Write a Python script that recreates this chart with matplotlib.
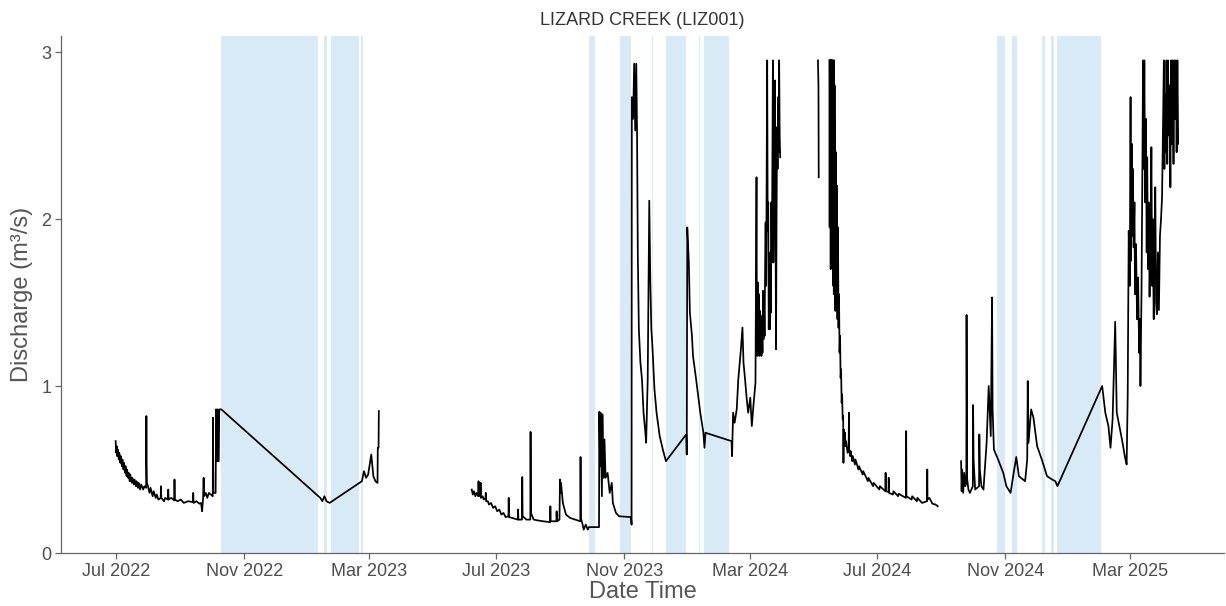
import numpy as np
import pandas as pd
import matplotlib
matplotlib.use("Agg")
import matplotlib.pyplot as plt
import matplotlib.dates as mdates

plt.rcParams["font.family"] = ["Liberation Sans", "DejaVu Sans"]

# discharge record (m3/s), split where the logger had no data
seg1_dates = ["2022-06-30 12:00", "2022-07-01 00:00", "2022-07-01 12:00", "2022-07-02 00:00",
              "2022-07-02 12:00", "2022-07-03 12:00", "2022-07-04 00:00", "2022-07-05 00:00",
              "2022-07-05 12:00", "2022-07-06 12:00", "2022-07-07 00:00", "2022-07-08 00:00",
              "2022-07-08 12:00", "2022-07-09 12:00", "2022-07-10 00:00", "2022-07-11 00:00",
              "2022-07-11 12:00", "2022-07-12 12:00", "2022-07-13 00:00", "2022-07-14 00:00",
              "2022-07-14 12:00", "2022-07-16 00:00", "2022-07-16 12:00", "2022-07-18 00:00",
              "2022-07-18 12:00", "2022-07-20 00:00", "2022-07-20 12:00", "2022-07-22 00:00",
              "2022-07-22 12:00", "2022-07-24 00:00", "2022-07-25 00:00", "2022-07-27 00:00",
              "2022-07-28 00:00", "2022-07-29 18:00", "2022-07-30 00:00", "2022-07-30 04:00",
              "2022-07-30 12:00", "2022-07-31 12:00", "2022-08-02 00:00", "2022-08-03 00:00",
              "2022-08-05 00:00", "2022-08-06 00:00", "2022-08-08 00:00", "2022-08-09 00:00",
              "2022-08-10 12:00", "2022-08-12 18:00", "2022-08-13 00:00", "2022-08-13 08:00",
              "2022-08-16 00:00", "2022-08-17 00:00", "2022-08-19 18:00", "2022-08-20 00:00",
              "2022-08-20 08:00", "2022-08-23 00:00", "2022-08-25 18:00", "2022-08-26 00:00",
              "2022-08-26 08:00", "2022-08-29 00:00", "2022-09-01 00:00", "2022-09-04 00:00",
              "2022-09-08 00:00", "2022-09-12 18:00", "2022-09-13 00:00", "2022-09-13 08:00",
              "2022-09-16 00:00", "2022-09-19 00:00", "2022-09-20 12:00", "2022-09-21 12:00",
              "2022-09-22 12:00", "2022-09-23 00:00", "2022-09-23 08:00", "2022-09-25 00:00",
              "2022-09-26 12:00", "2022-09-28 00:00", "2022-10-01 18:00", "2022-10-02 00:00",
              "2022-10-02 08:00", "2022-10-04 12:00", "2022-10-05 00:00", "2022-10-06 00:00",
              "2022-10-06 06:00", "2022-10-07 12:00", "2022-10-08 00:00", "2022-10-10 00:00",
              "2023-01-13 00:00", "2023-01-15 00:00", "2023-01-17 00:00", "2023-01-19 00:00",
              "2023-01-22 00:00", "2023-02-22 00:00", "2023-02-24 00:00", "2023-02-26 00:00",
              "2023-02-28 00:00", "2023-03-03 00:00", "2023-03-05 00:00", "2023-03-07 00:00",
              "2023-03-09 00:00", "2023-03-09 06:00", "2023-03-10 00:00", "2023-03-10 06:00"]
seg1_q = [0.67, 0.60, 0.64, 0.58,
          0.62, 0.56, 0.60, 0.54,
          0.58, 0.52, 0.56, 0.50,
          0.54, 0.48, 0.52, 0.46,
          0.50, 0.45, 0.48, 0.43,
          0.47, 0.42, 0.45, 0.41,
          0.44, 0.40, 0.43, 0.39,
          0.42, 0.38, 0.41, 0.38,
          0.40, 0.39, 0.82, 0.55,
          0.42, 0.40, 0.36, 0.39,
          0.34, 0.37, 0.33, 0.35,
          0.32, 0.33, 0.40, 0.33,
          0.31, 0.33, 0.32, 0.38,
          0.32, 0.33, 0.315, 0.44,
          0.32, 0.31, 0.32, 0.30,
          0.31, 0.305, 0.36, 0.30,
          0.31, 0.295, 0.30, 0.25,
          0.33, 0.45, 0.34, 0.36,
          0.33, 0.36, 0.34, 0.81,
          0.36, 0.36, 0.86, 0.55,
          0.86, 0.55, 0.86, 0.86,
          0.33, 0.31, 0.34, 0.31,
          0.30, 0.43, 0.49, 0.45,
          0.47, 0.59, 0.46, 0.43,
          0.42, 0.63, 0.63, 0.85]

seg2_dates = ["2023-06-07 12:00", "2023-06-08 12:00", "2023-06-09 12:00", "2023-06-11 00:00",
              "2023-06-12 00:00", "2023-06-13 18:00", "2023-06-14 00:00", "2023-06-14 08:00",
              "2023-06-15 18:00", "2023-06-16 00:00", "2023-06-16 08:00", "2023-06-18 00:00",
              "2023-06-19 00:00", "2023-06-20 18:00", "2023-06-21 00:00", "2023-06-21 08:00",
              "2023-06-23 00:00", "2023-06-24 00:00", "2023-06-26 00:00", "2023-06-28 00:00",
              "2023-06-30 00:00", "2023-07-02 00:00", "2023-07-04 00:00", "2023-07-06 00:00",
              "2023-07-08 00:00", "2023-07-10 00:00", "2023-07-12 18:00", "2023-07-13 00:00",
              "2023-07-13 08:00", "2023-07-16 00:00", "2023-07-19 00:00", "2023-07-21 18:00",
              "2023-07-22 00:00", "2023-07-22 08:00", "2023-07-25 18:00", "2023-07-26 00:00",
              "2023-07-26 08:00", "2023-07-30 00:00", "2023-08-02 18:00", "2023-08-03 00:00",
              "2023-08-03 08:00", "2023-08-06 00:00", "2023-08-10 00:00", "2023-08-15 00:00",
              "2023-08-21 18:00", "2023-08-22 00:00", "2023-08-22 08:00", "2023-08-27 18:00",
              "2023-08-28 00:00", "2023-08-28 08:00", "2023-08-30 18:00", "2023-08-31 06:00",
              "2023-08-31 18:00", "2023-09-01 06:00", "2023-09-03 00:00", "2023-09-06 00:00",
              "2023-09-10 00:00", "2023-09-15 00:00", "2023-09-19 18:00", "2023-09-20 00:00",
              "2023-09-20 08:00", "2023-09-22 00:00", "2023-09-23 00:00", "2023-09-25 00:00",
              "2023-09-27 00:00", "2023-09-28 00:00", "2023-10-07 18:00", "2023-10-08 00:00",
              "2023-10-08 18:00", "2023-10-09 06:00", "2023-10-10 12:00", "2023-10-11 00:00",
              "2023-10-12 00:00", "2023-10-13 00:00", "2023-10-14 00:00", "2023-10-16 00:00",
              "2023-10-18 00:00", "2023-10-20 00:00", "2023-10-21 00:00", "2023-10-24 00:00",
              "2023-10-27 00:00", "2023-11-07 12:00", "2023-11-08 00:00", "2023-11-08 06:00",
              "2023-11-09 12:00", "2023-11-10 12:00", "2023-11-11 12:00", "2023-11-12 12:00",
              "2023-11-13 06:00", "2023-11-14 00:00", "2023-11-15 00:00", "2023-11-16 12:00",
              "2023-11-18 00:00", "2023-11-19 12:00", "2023-11-21 00:00", "2023-11-22 00:00",
              "2023-11-23 12:00", "2023-11-25 00:00", "2023-11-26 00:00", "2023-11-27 00:00",
              "2023-11-28 00:00", "2023-11-30 00:00", "2023-12-02 00:00", "2023-12-05 00:00",
              "2023-12-08 00:00", "2023-12-11 00:00", "2023-12-30 12:00", "2023-12-31 00:00",
              "2023-12-31 12:00", "2024-01-02 00:00", "2024-01-03 00:00", "2024-01-05 00:00",
              "2024-01-06 00:00", "2024-01-09 00:00", "2024-01-11 00:00", "2024-01-13 00:00",
              "2024-01-16 00:00", "2024-01-17 00:00", "2024-01-18 00:00", "2024-02-12 00:00",
              "2024-02-12 12:00", "2024-02-13 12:00", "2024-02-15 00:00", "2024-02-17 00:00",
              "2024-02-18 12:00", "2024-02-21 00:00", "2024-02-22 12:00", "2024-02-23 12:00",
              "2024-02-25 00:00", "2024-02-26 12:00", "2024-02-28 00:00", "2024-03-01 00:00",
              "2024-03-02 12:00", "2024-03-04 00:00", "2024-03-06 00:00", "2024-03-07 00:00",
              "2024-03-07 06:00", "2024-03-07 18:00", "2024-03-08 06:00", "2024-03-08 18:00",
              "2024-03-09 06:00", "2024-03-09 18:00", "2024-03-10 06:00", "2024-03-10 18:00",
              "2024-03-11 06:00", "2024-03-11 18:00", "2024-03-12 06:00", "2024-03-12 18:00",
              "2024-03-13 06:00", "2024-03-13 18:00", "2024-03-14 06:00", "2024-03-14 18:00",
              "2024-03-15 06:00", "2024-03-15 18:00", "2024-03-16 06:00", "2024-03-16 18:00",
              "2024-03-17 06:00", "2024-03-17 18:00", "2024-03-18 06:00", "2024-03-18 18:00",
              "2024-03-19 06:00", "2024-03-19 18:00", "2024-03-20 06:00", "2024-03-20 18:00",
              "2024-03-21 06:00", "2024-03-21 18:00", "2024-03-22 06:00", "2024-03-22 18:00",
              "2024-03-23 06:00", "2024-03-23 18:00", "2024-03-24 06:00", "2024-03-24 18:00",
              "2024-03-25 06:00", "2024-03-25 18:00", "2024-03-26 06:00", "2024-03-26 18:00",
              "2024-03-27 06:00", "2024-03-27 18:00", "2024-03-28 06:00", "2024-03-28 18:00",
              "2024-03-29 06:00", "2024-03-29 18:00"]
seg2_q = [0.38, 0.35, 0.37, 0.34,
          0.36, 0.34, 0.43, 0.34,
          0.35, 0.42, 0.33, 0.34,
          0.32, 0.33, 0.36, 0.31,
          0.31, 0.29, 0.30, 0.27,
          0.28, 0.25, 0.26, 0.23,
          0.24, 0.215, 0.22, 0.33,
          0.215, 0.21, 0.205, 0.20,
          0.26, 0.20, 0.20, 0.455,
          0.22, 0.20, 0.20, 0.725,
          0.24, 0.20, 0.195, 0.19,
          0.185, 0.28, 0.19, 0.19,
          0.25, 0.19, 0.20, 0.44,
          0.36, 0.42, 0.30, 0.23,
          0.21, 0.20, 0.19, 0.575,
          0.21, 0.17, 0.14, 0.17,
          0.14, 0.155, 0.155, 0.845,
          0.52, 0.84, 0.34, 0.83,
          0.45, 0.68, 0.45, 0.48,
          0.36, 0.42, 0.30, 0.24,
          0.22, 0.215, 0.17, 2.73,
          2.60, 2.93, 2.53, 2.93,
          2.53, 1.79, 1.34, 1.14,
          1.04, 0.84, 0.74, 0.66,
          1.04, 2.11, 1.63, 1.34,
          1.24, 0.98, 0.84, 0.70,
          0.62, 0.55, 0.71, 0.59,
          1.95, 1.74, 1.44, 1.30,
          1.18, 1.04, 0.94, 0.84,
          0.72, 0.63, 0.72, 0.67,
          0.58, 0.84, 0.78, 0.86,
          1.04, 1.22, 1.35, 1.14,
          1.04, 0.93, 0.84, 0.93,
          0.76, 0.88, 1.02, 2.25,
          1.62, 1.18, 1.62, 1.25,
          1.55, 1.18, 1.45, 1.20,
          1.42, 1.18, 1.35, 1.20,
          1.57, 1.28, 1.50, 1.30,
          1.70, 1.98, 1.60, 2.30,
          2.95, 1.93, 2.10, 1.34,
          1.60, 1.34, 1.80, 1.44,
          2.10, 1.74, 2.40, 2.95,
          1.74, 2.20, 1.90, 2.83,
          2.10, 1.22, 2.00, 2.55,
          2.30, 2.73, 2.40, 2.95,
          2.50, 2.37]

seg3_dates = ["2024-05-05 00:00", "2024-05-05 12:00", "2024-05-05 18:00"]
seg3_q = [2.95, 2.80, 2.25]

seg4_dates = ["2024-05-16 00:00", "2024-05-16 06:00", "2024-05-16 12:00", "2024-05-16 18:00",
              "2024-05-17 00:00", "2024-05-17 06:00", "2024-05-17 12:00", "2024-05-17 18:00",
              "2024-05-18 00:00", "2024-05-18 06:00", "2024-05-18 12:00", "2024-05-18 18:00",
              "2024-05-19 00:00", "2024-05-19 06:00", "2024-05-19 12:00", "2024-05-19 18:00",
              "2024-05-20 00:00", "2024-05-20 06:00", "2024-05-20 12:00", "2024-05-20 18:00",
              "2024-05-21 00:00", "2024-05-21 06:00", "2024-05-21 12:00", "2024-05-21 18:00",
              "2024-05-22 06:00", "2024-05-22 18:00", "2024-05-23 06:00", "2024-05-23 18:00",
              "2024-05-24 06:00", "2024-05-24 18:00", "2024-05-25 06:00", "2024-05-25 18:00",
              "2024-05-26 06:00", "2024-05-26 18:00", "2024-05-27 06:00", "2024-05-27 18:00",
              "2024-05-28 06:00", "2024-05-28 18:00", "2024-05-29 06:00", "2024-05-29 12:00",
              "2024-05-29 18:00", "2024-05-30 12:00", "2024-05-31 00:00", "2024-05-31 12:00",
              "2024-06-01 00:00", "2024-06-02 12:00", "2024-06-03 12:00", "2024-06-03 18:00",
              "2024-06-04 00:00", "2024-06-05 00:00", "2024-06-05 12:00", "2024-06-07 00:00",
              "2024-06-07 12:00", "2024-06-09 12:00", "2024-06-10 00:00", "2024-06-13 00:00",
              "2024-06-13 12:00", "2024-06-17 00:00", "2024-06-17 12:00", "2024-06-22 00:00",
              "2024-06-22 12:00", "2024-06-27 00:00", "2024-06-27 12:00", "2024-07-03 00:00",
              "2024-07-03 12:00", "2024-07-08 18:00", "2024-07-09 00:00", "2024-07-09 06:00",
              "2024-07-11 18:00", "2024-07-12 00:00", "2024-07-12 06:00", "2024-07-16 00:00",
              "2024-07-16 12:00", "2024-07-21 00:00", "2024-07-21 12:00", "2024-07-28 12:00",
              "2024-07-28 18:00", "2024-07-29 00:00", "2024-08-03 00:00", "2024-08-03 12:00",
              "2024-08-08 00:00", "2024-08-08 12:00", "2024-08-13 00:00", "2024-08-17 18:00",
              "2024-08-18 00:00", "2024-08-18 06:00", "2024-08-20 00:00", "2024-08-23 00:00",
              "2024-08-26 00:00", "2024-08-28 00:00"]
seg4_q = [2.95, 1.95, 2.95, 2.30,
          2.95, 1.70, 2.95, 2.10,
          2.95, 2.00, 2.95, 1.75,
          2.95, 1.80, 2.90, 1.60,
          2.95, 1.55, 2.95, 1.70,
          2.80, 1.50, 2.60, 1.45,
          2.40, 1.50, 2.20, 1.40,
          1.95, 1.35, 1.55, 1.20,
          1.30, 1.05, 1.10, 0.90,
          0.95, 0.80, 0.82, 0.54,
          0.74, 0.68, 0.72, 0.64,
          0.67, 0.60, 0.62, 0.84,
          0.62, 0.58, 0.61, 0.55,
          0.58, 0.53, 0.56, 0.50,
          0.52, 0.47, 0.49, 0.43,
          0.45, 0.40, 0.42, 0.38,
          0.40, 0.37, 0.48, 0.37,
          0.365, 0.45, 0.36, 0.35,
          0.37, 0.34, 0.355, 0.33,
          0.73, 0.34, 0.32, 0.34,
          0.31, 0.33, 0.30, 0.31,
          0.50, 0.32, 0.33, 0.295,
          0.29, 0.28]

seg5_dates = ["2024-09-19 12:00", "2024-09-20 00:00", "2024-09-20 12:00", "2024-09-21 12:00",
              "2024-09-22 12:00", "2024-09-23 12:00", "2024-09-24 12:00", "2024-09-24 18:00",
              "2024-09-25 06:00", "2024-09-26 12:00", "2024-09-28 00:00", "2024-09-30 18:00",
              "2024-10-01 00:00", "2024-10-01 12:00", "2024-10-03 00:00", "2024-10-06 18:00",
              "2024-10-07 00:00", "2024-10-07 12:00", "2024-10-09 00:00", "2024-10-11 00:00",
              "2024-10-14 00:00", "2024-10-16 00:00", "2024-10-18 00:00", "2024-10-19 06:00",
              "2024-10-19 18:00", "2024-10-21 00:00", "2024-10-25 00:00", "2024-10-30 00:00",
              "2024-11-02 00:00", "2024-11-06 00:00", "2024-11-09 00:00", "2024-11-11 12:00",
              "2024-11-14 00:00", "2024-11-20 00:00", "2024-11-22 00:00", "2024-11-22 12:00",
              "2024-11-23 06:00", "2024-11-25 18:00", "2024-11-28 00:00", "2024-12-01 12:00",
              "2024-12-06 00:00", "2024-12-11 00:00", "2024-12-16 00:00", "2024-12-19 00:00",
              "2024-12-21 00:00", "2025-02-02 00:00", "2025-02-05 00:00", "2025-02-08 00:00",
              "2025-02-10 00:00", "2025-02-12 00:00", "2025-02-14 12:00", "2025-02-16 00:00",
              "2025-02-21 00:00", "2025-02-24 00:00", "2025-02-25 12:00", "2025-02-26 12:00",
              "2025-02-27 12:00", "2025-02-28 12:00", "2025-03-01 06:00", "2025-03-01 18:00",
              "2025-03-02 12:00", "2025-03-03 00:00", "2025-03-03 12:00", "2025-03-04 06:00",
              "2025-03-05 00:00", "2025-03-05 12:00", "2025-03-06 12:00", "2025-03-07 12:00",
              "2025-03-08 12:00", "2025-03-09 12:00", "2025-03-10 06:00", "2025-03-10 18:00",
              "2025-03-11 18:00", "2025-03-12 12:00", "2025-03-13 06:00", "2025-03-13 18:00",
              "2025-03-14 12:00", "2025-03-15 06:00", "2025-03-16 00:00", "2025-03-16 18:00",
              "2025-03-17 06:00", "2025-03-18 00:00", "2025-03-18 18:00", "2025-03-19 12:00",
              "2025-03-20 12:00", "2025-03-21 06:00", "2025-03-22 00:00", "2025-03-22 12:00",
              "2025-03-23 12:00", "2025-03-24 06:00", "2025-03-25 00:00", "2025-03-25 18:00",
              "2025-03-26 12:00", "2025-03-27 12:00", "2025-03-28 12:00", "2025-03-29 12:00",
              "2025-03-30 12:00", "2025-03-31 12:00", "2025-04-01 12:00", "2025-04-02 06:00",
              "2025-04-02 18:00", "2025-04-03 12:00", "2025-04-04 06:00", "2025-04-04 18:00",
              "2025-04-05 12:00", "2025-04-06 06:00", "2025-04-07 00:00", "2025-04-07 18:00",
              "2025-04-08 12:00", "2025-04-09 06:00", "2025-04-10 00:00", "2025-04-10 18:00",
              "2025-04-11 12:00", "2025-04-12 06:00", "2025-04-13 00:00", "2025-04-13 18:00",
              "2025-04-14 12:00", "2025-04-15 06:00", "2025-04-16 00:00"]
seg5_q = [0.55, 0.37, 0.50, 0.36,
          0.48, 0.40, 0.42, 1.425,
          0.45, 0.38, 0.36, 0.40,
          0.886, 0.56, 0.38, 0.40,
          0.71, 0.50, 0.40, 0.38,
          0.66, 1.00, 0.70, 1.53,
          0.86, 0.62, 0.56, 0.48,
          0.40, 0.36, 0.48, 0.575,
          0.46, 0.43, 0.56, 1.03,
          0.66, 0.86, 0.81, 0.64,
          0.56, 0.46, 0.44, 0.43,
          0.40, 1.00, 0.84, 0.76,
          0.63, 0.80, 1.385, 0.84,
          0.68, 0.57, 0.53, 0.94,
          1.93, 1.60, 2.73, 1.75,
          2.45, 1.90, 2.30, 1.83,
          2.10, 1.55, 1.85, 1.40,
          1.65, 1.20, 1.40, 1.00,
          1.55, 2.20, 2.95, 2.30,
          2.95, 2.10, 2.60, 1.80,
          2.37, 1.70, 2.10, 1.535,
          1.90, 2.43, 1.60, 2.00,
          1.40, 1.90, 2.19, 1.50,
          1.43, 1.80, 1.455, 1.90,
          2.00, 2.13, 2.60, 2.95,
          2.30, 2.75, 2.40, 2.95,
          2.33, 2.95, 2.50, 2.80,
          2.19, 2.95, 2.45, 2.95,
          2.33, 2.95, 2.60, 2.95,
          2.40, 2.95, 2.45]

segments = [(seg1_dates, seg1_q), (seg2_dates, seg2_q), (seg3_dates, seg3_q),
            (seg4_dates, seg4_q), (seg5_dates, seg5_q)]

# flagged periods (shaded)
span_start = ["2022-10-10", "2023-01-17", "2023-01-23", "2023-02-21", "2023-09-28",
              "2023-10-28", "2023-11-28", "2023-12-11", "2024-01-12", "2024-01-17",
              "2024-10-24", "2024-11-07", "2024-12-06", "2024-12-15", "2024-12-21"]
span_end = ["2023-01-11", "2023-01-19", "2023-02-19", "2023-02-23", "2023-10-04",
            "2023-11-07", "2023-11-29", "2023-12-30", "2024-01-13", "2024-02-10",
            "2024-11-01", "2024-11-12", "2024-12-09", "2024-12-18", "2025-02-01"]

fig = plt.figure(figsize=(12.26, 6.06), dpi=100)
ax = fig.add_axes([61 / 1226, 53 / 606, 1163 / 1226, 517 / 606])

for s, e in zip(span_start, span_end):
    ax.axvspan(pd.Timestamp(s), pd.Timestamp(e), color="#d7eaf6", lw=0, zorder=0)

for d, q in segments:
    ax.plot(pd.to_datetime(d, format="mixed"), q, color="black", lw=1.25, zorder=2)

ax.set_xlim(pd.Timestamp("2022-05-09"), pd.Timestamp("2025-05-30"))
ax.set_ylim(0, 3.096)

ax.xaxis.set_major_locator(mdates.MonthLocator(bymonth=[3, 7, 11]))
ax.xaxis.set_major_formatter(mdates.DateFormatter("%b %Y"))
ax.set_yticks([0, 1, 2, 3])

for side in ["top", "right"]:
    ax.spines[side].set_visible(False)
for side in ["left", "bottom"]:
    ax.spines[side].set_color("#666666")
    ax.spines[side].set_linewidth(0.9)
ax.tick_params(axis="both", colors="#666666", labelcolor="#4d4d4d", labelsize=13,
               length=4, width=0.9, pad=3)

ax.set_title("LIZARD CREEK (LIZ001)", fontsize=13, color="#333333", pad=8)
ax.set_xlabel("Date Time", fontsize=17, color="#555555", labelpad=1)
ax.set_ylabel("Discharge (m³/s)", fontsize=17, color="#555555", labelpad=6)

fig.savefig("out.png", dpi=100)
